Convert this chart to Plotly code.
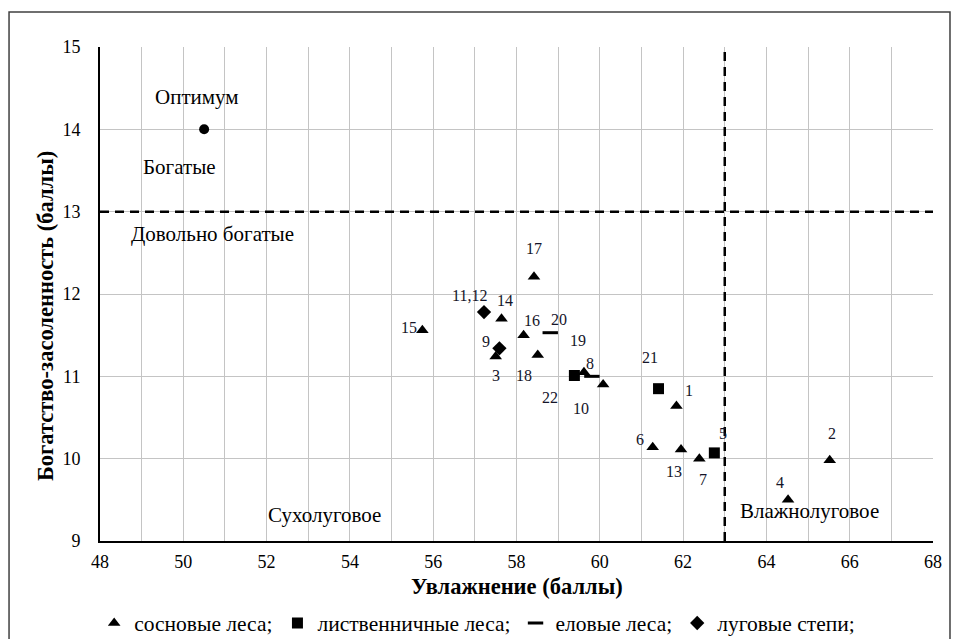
import plotly.graph_objects as go

# ---- data ----
pine_labels = ["1", "2", "3", "4", "6", "7", "8", "10", "13", "14", "15", "16", "17", "18"]
pine_x = [61.84, 65.52, 57.50, 64.52, 61.27, 62.39, 59.62, 60.08, 61.95, 57.64, 55.74, 58.17, 58.42, 58.51]
pine_y = [10.64, 9.98, 11.24, 9.50, 10.14, 10.00, 11.05, 10.90, 10.11, 11.70, 11.56, 11.50, 12.21, 11.26]

larch_labels = ["5", "21", "22"]
larch_x = [62.75, 61.41, 59.39]
larch_y = [10.07, 10.85, 11.01]

spruce_labels = ["19", "20"]
spruce_x = [59.81, 58.81]
spruce_y = [11.00, 11.53]

steppe_labels = ["9", "11,12"]
steppe_x = [57.59, 57.22]
steppe_y = [11.34, 11.78]

optimum_x = [50.5]
optimum_y = [14.0]

threshold_x = 63
threshold_y = 13

region_texts = ["Оптимум", "Богатые", "Довольно богатые", "Сухолуговое", "Влажнолуговое"]
region_x = [50.32, 49.92, 50.69, 53.40, 65.04]
region_y = [14.39, 13.54, 12.73, 9.32, 9.36]

legend_names = ["сосновые леса;", "лиственничные леса;", "еловые леса;", "луговые степи;"]

x_title = "Увлажнение (баллы)"
y_title = "Богатство-засоленность (баллы)"

x_ticks = list(range(48, 69, 2))
y_ticks = list(range(9, 16))

# label offsets in screen pixels (dx, dy up)
label_offsets = {
    "1": (13, 15), "2": (2, 27), "3": (0, -19), "4": (-8, 17), "5": (9, 19),
    "6": (-13, 8), "7": (4, -21), "8": (6, 9), "9": (-13, 7), "10": (-22, -24),
    "11,12": (-15, 17), "13": (-7, -22), "14": (3, 18), "15": (-13, 3),
    "16": (8, 15), "17": (0, 28), "18": (-14, -21), "19": (-14, 36),
    "20": (9, 13), "21": (-9, 31), "22": (-24, -22),
}

SERIF = "Times New Roman, Liberation Serif, serif"

fig = go.Figure()

fig.add_trace(go.Scatter(x=pine_x, y=pine_y, mode="markers", name=legend_names[0],
                         marker=dict(symbol="triangle-up", size=11, color="black")))
fig.add_trace(go.Scatter(x=larch_x, y=larch_y, mode="markers", name=legend_names[1],
                         marker=dict(symbol="square", size=11, color="black")))
fig.add_trace(go.Scatter(x=spruce_x, y=spruce_y, mode="markers", name=legend_names[2],
                         marker=dict(symbol="line-ew", size=11, color="black",
                                     line=dict(color="black", width=3))))
fig.add_trace(go.Scatter(x=steppe_x, y=steppe_y, mode="markers", name=legend_names[3],
                         marker=dict(symbol="diamond", size=11, color="black")))
fig.add_trace(go.Scatter(x=optimum_x, y=optimum_y, mode="markers", showlegend=False,
                         marker=dict(symbol="circle", size=10, color="black")))

# dashed threshold lines
fig.add_trace(go.Scatter(x=[48, 68], y=[threshold_y, threshold_y], mode="lines", showlegend=False,
                         line=dict(color="black", width=2.5, dash="9px,6px")))
fig.add_trace(go.Scatter(x=[threshold_x, threshold_x], y=[9, 15], mode="lines", showlegend=False,
                         line=dict(color="black", width=2.5, dash="9px,6px")))

annotations = []
for labs, xs, ys in [(pine_labels, pine_x, pine_y), (larch_labels, larch_x, larch_y),
                     (spruce_labels, spruce_x, spruce_y), (steppe_labels, steppe_x, steppe_y)]:
    for lab, xv, yv in zip(labs, xs, ys):
        dx, dy = label_offsets[lab]
        annotations.append(dict(x=xv, y=yv, text=lab, showarrow=False, xshift=dx, yshift=dy,
                                font=dict(family=SERIF, size=16, color="#141428")))

for t, xv, yv in zip(region_texts, region_x, region_y):
    annotations.append(dict(x=xv, y=yv, text=t, showarrow=False,
                            font=dict(family=SERIF, size=21, color="black")))

# axis titles
annotations.append(dict(xref="paper", yref="paper", x=0.5006, y=-0.0911, text="<b>" + x_title + "</b>",
                        showarrow=False, xanchor="center", yanchor="middle",
                        font=dict(family=SERIF, size=22.5, color="black")))
annotations.append(dict(xref="paper", yref="paper", x=-0.0648, y=0.4555, text="<b>" + y_title + "</b>",
                        showarrow=False, xanchor="center", yanchor="middle", textangle=-90,
                        font=dict(family=SERIF, size=22.5, color="black")))

fig.update_layout(
    width=951, height=631,
    margin=dict(l=92, r=26, t=39, b=98, autoexpand=False),
    paper_bgcolor="white", plot_bgcolor="white",
    font=dict(family=SERIF, size=18, color="black"),
    showlegend=True,
    legend=dict(orientation="h", x=-0.007, y=-0.166, xanchor="left", yanchor="middle",
                font=dict(family=SERIF, size=21.5, color="black"), itemwidth=30,
                bgcolor="rgba(0,0,0,0)"),
    annotations=annotations,
    shapes=[dict(type="rect", xref="paper", yref="paper", x0=-0.1092, x1=1.0204,
                 y0=-0.4, y1=1.0709, line=dict(color="#404040", width=1.5), layer="below")],
)

fig.update_xaxes(range=[48, 68], tickvals=x_ticks, ticks="", ticklabelstandoff=3,
                 showgrid=True, gridcolor="#c4c4c4", gridwidth=1,
                 showline=True, linecolor="black", linewidth=2, zeroline=False,
                 automargin=False,
                 tickfont=dict(family=SERIF, size=18),
                 minor=dict(dtick=1, showgrid=True, gridcolor="#c4c4c4", gridwidth=1))
fig.update_yaxes(range=[9, 15], tickvals=y_ticks, ticks="", ticklabelstandoff=14,
                 showgrid=True, gridcolor="#c4c4c4", gridwidth=1,
                 showline=True, linecolor="black", linewidth=2, zeroline=False,
                 automargin=False,
                 tickfont=dict(family=SERIF, size=18))

fig.write_html("out.html")
